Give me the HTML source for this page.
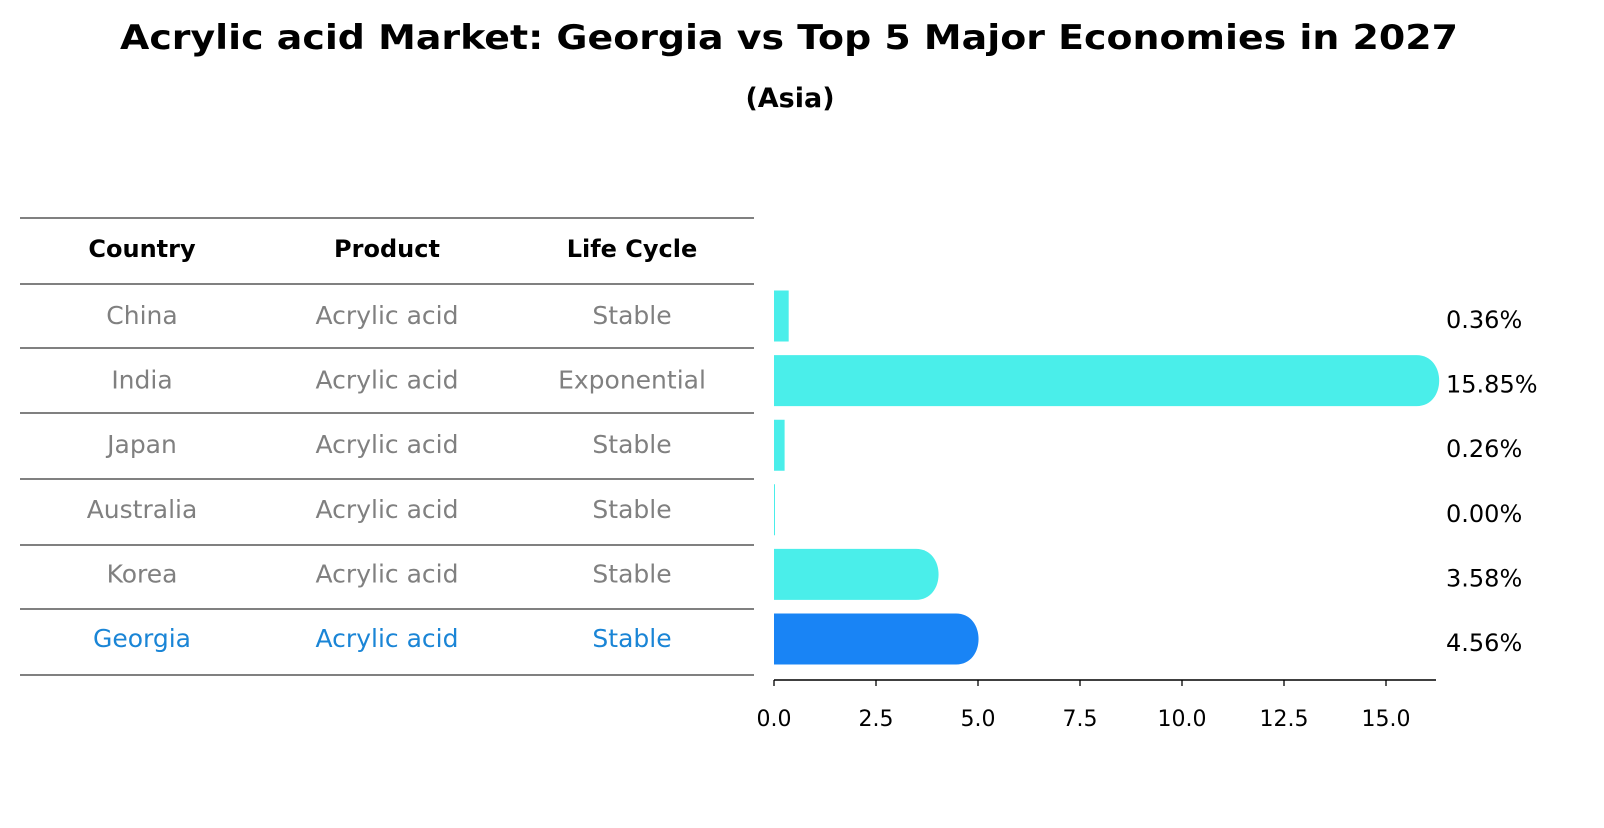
<!DOCTYPE html>
<html><head><meta charset="utf-8"><style>
body{margin:0;background:#fff;font-family:"Liberation Sans","DejaVu Sans",sans-serif;}
</style></head><body>
<svg width="1604" height="823" viewBox="0 0 1604 823" xmlns="http://www.w3.org/2000/svg" font-family="DejaVu Sans, Liberation Sans, sans-serif">
<text x="789" y="49" text-anchor="middle" font-size="34" font-weight="bold" textLength="1338" lengthAdjust="spacingAndGlyphs">Acrylic acid Market: Georgia vs Top 5 Major Economies in 2027</text>
<text x="790" y="107" text-anchor="middle" font-size="27" font-weight="bold">(Asia)</text>
<g id="table"></g>
<g id="bars"></g>
<g id="axis"></g>
</svg>
<script>
const countries=["China","India","Japan","Australia","Korea","Georgia"];
const products=["Acrylic acid","Acrylic acid","Acrylic acid","Acrylic acid","Acrylic acid","Acrylic acid"];
const lifecycles=["Stable","Exponential","Stable","Stable","Stable","Stable"];
const values=[0.36,15.85,0.26,0.00,3.58,4.56];
const ticks=[0,2.5,5,7.5,10,12.5,15];
const NS="http://www.w3.org/2000/svg";
const x0=774,unit=(1386-774)/15;
const xs=v=>x0+v*unit;
const rowY=i=>316+i*64.6;
function el(t,a,p){const e=document.createElementNS(NS,t);for(const k in a)e.setAttribute(k,a[k]);p.appendChild(e);return e;}
const tb=document.getElementById('table');
const lines=[218,284,348,413,479,545,609,675];
lines.forEach((y,i)=>{const l=el('line',{x1:20,x2:754,y1:y,y2:y,stroke:'#000','stroke-width':1},tb);

});
const cols=[142,387,632];
["Country","Product","Life Cycle"].forEach((h,j)=>{const t=el('text',{x:cols[j],y:257,'text-anchor':'middle','font-size':24,'font-weight':'bold'},tb);t.textContent=h;

});
countries.forEach((c,i)=>{const col=c==="Georgia"?"#1a85d6":"#808080";
[c,products[i],lifecycles[i]].forEach((s,j)=>{const t=el('text',{x:cols[j],y:rowY(i)+8,'text-anchor':'middle','font-size':25,fill:col},tb);t.textContent=s;

});});
const bg=document.getElementById('bars');
values.forEach((v,i)=>{const col=countries[i]==="Georgia"?"#1984f5":"#4aeeea";
const yc=rowY(i),h=51,xe=xs(v),w=xe-x0;
let d;
if(w>30){d=`M${x0},${yc-h/2} H${xe-4} C${xe+26},${yc-h/2} ${xe+26},${yc+h/2} ${xe-4},${yc+h/2} H${x0} Z`;}
else d=`M${x0},${yc-h/2} H${Math.max(xe,x0+1)} V${yc+h/2} H${x0} Z`;
const p=el('path',{d:d,fill:col},bg);


const t=el('text',{x:1446,y:yc+12,'font-size':24},bg);t.textContent=v.toFixed(2)+'%';

});
const ax=document.getElementById('axis');
const al=el('line',{x1:x0,x2:1436,y1:680,y2:680,stroke:'#000','stroke-width':1.5},ax);


ticks.forEach(v=>{const l=el('line',{x1:xs(v),x2:xs(v),y1:680,y2:686,stroke:'#000','stroke-width':1.3},ax);


const t=el('text',{x:xs(v),y:726,'text-anchor':'middle','font-size':22},ax);t.textContent=v.toFixed(1);

});
</script>
</body></html>
